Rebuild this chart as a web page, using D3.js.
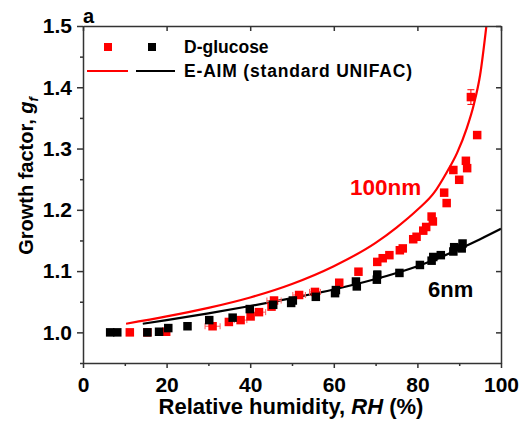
<!DOCTYPE html>
<html>
<head>
<meta charset="utf-8">
<script src="https://cdn.jsdelivr.net/npm/d3@7"></script>
<style>
  html, body { margin: 0; padding: 0; background: #fff; }
  svg { display: block; font-family: "Liberation Sans", Arial, sans-serif; }
</style>
</head>
<body>
<svg id="chart" width="526" height="425"></svg>
<script>
// Measured growth factors of D-glucose particles (100 nm dry, red)
const rh100 = [11.2, 15.4, 19.9, 31.0, 34.9, 37.7, 40.1, 42.1, 45.1, 45.7, 51.7, 55.5,
               61.3, 65.9, 70.4, 71.7, 73.3, 75.8, 76.5, 79.0, 79.8, 81.4, 82.1, 83.4,
               83.7, 86.4, 87.0, 88.6, 90.0, 91.6, 91.9, 92.8, 94.3];
const gf100 = [1.000, 1.000, 1.001, 1.010, 1.017, 1.020, 1.026, 1.033, 1.042, 1.052, 1.061, 1.066,
               1.081, 1.099, 1.115, 1.121, 1.126, 1.134, 1.137, 1.152, 1.156, 1.166, 1.172, 1.189,
               1.181, 1.228, 1.211, 1.265, 1.249, 1.280, 1.268, 1.384, 1.322];
// Horizontal (RH) and vertical (gf) uncertainties for the 100 nm points
const rhErr100 = [0, 0, 0, 1.8, 0, 1.5, 0, 1.6, 0, 1.7, 1.5, 1.3,
                  0, 0, 0, 0, 0, 0, 0, 0, 0, 0, 0, 0,
                  0, 0, 0, 0, 0, 0, 0, 0, 0];
const gfErr100 = [0, 0, 0, 0, 0, 0, 0, 0, 0, 0, 0, 0,
                  0, 0, 0, 0, 0, 0, 0, 0, 0, 0, 0, 0,
                  0, 0, 0, 0, 0, 0, 0, 0.012, 0];

// Measured growth factors of D-glucose particles (6 nm dry, black)
const rh6 = [6.5, 8.2, 15.4, 18.2, 20.4, 25.0, 30.2, 35.8, 39.9, 45.5, 49.8, 50.2,
             55.7, 60.3, 60.5, 65.5, 65.3, 70.3, 70.4, 75.7, 80.6, 83.4, 83.8, 85.6,
             88.6, 88.8, 90.6, 90.8];
const gf6 = [1.000, 1.000, 1.000, 1.001, 1.007, 1.010, 1.020, 1.024, 1.038, 1.045, 1.048, 1.052,
             1.058, 1.064, 1.069, 1.075, 1.083, 1.086, 1.094, 1.097, 1.110, 1.117, 1.123, 1.126,
             1.132, 1.139, 1.137, 1.145];
const gfErr6 = [0, 0, 0, 0, 0, 0, 0, 0, 0, 0, 0, 0,
                0.004, 0, 0, 0, 0, 0, 0.006, 0, 0, 0, 0, 0,
                0, 0, 0, 0];

// E-AIM (standard UNIFAC) model curves
const modelRh100 = [10.3, 20, 30, 40, 50, 60, 70, 75, 80, 84, 87, 89.5, 91.8, 93.5, 95, 96.5];
const modelGf100 = [1.014, 1.026, 1.040, 1.057, 1.079, 1.108, 1.146, 1.171, 1.200, 1.228, 1.261, 1.293, 1.333, 1.372, 1.420, 1.500];
const modelRh6 = [14.3, 20, 30, 40, 50, 60, 70, 80, 85, 90, 95, 100];
const modelGf6 = [1.014, 1.020, 1.031, 1.043, 1.056, 1.070, 1.087, 1.108, 1.121, 1.136, 1.152, 1.169];

// Axis ticks
const xTicks = [0, 20, 40, 60, 80, 100];
const xMinor = [10, 30, 50, 70, 90];
const yTicks = [1.0, 1.1, 1.2, 1.3, 1.4, 1.5];
const yMinor = [0.95, 1.05, 1.15, 1.25, 1.35, 1.45];

const RED = "#ff0000";
const BLACK = "#000000";
const AXIS = "#333333";

const svg = d3.select("#chart");
const L = 83, R = 501, T = 26, B = 363;

const x = d3.scaleLinear().domain([0, 100]).range([L, R]);
const y = d3.scaleLinear().domain([0.95, 1.5]).range([B, T]);

const defs = svg.append("defs");
defs.append("clipPath").attr("id", "plotClip")
  .append("rect").attr("x", L).attr("y", T).attr("width", R - L).attr("height", B - T);

const plot = svg.append("g").attr("clip-path", "url(#plotClip)");

// Model lines
const line = d3.line().x(d => x(d[0])).y(d => y(d[1])).curve(d3.curveMonotoneX);
plot.append("path")
  .datum(d3.zip(modelRh100, modelGf100))
  .attr("d", line).attr("fill", "none").attr("stroke", RED).attr("stroke-width", 2.2);
plot.append("path")
  .datum(d3.zip(modelRh6, modelGf6))
  .attr("d", line).attr("fill", "none").attr("stroke", BLACK).attr("stroke-width", 2.2);

const S = 8.5; // marker side

function drawSeries(rh, gf, rhErr, gfErr, color, errColor) {
  const data = rh.map((r, i) => ({ r, g: gf[i], er: rhErr ? rhErr[i] : 0, eg: gfErr ? gfErr[i] : 0 }));
  const g = plot.append("g");
  // horizontal error bars
  data.filter(d => d.er > 0).forEach(d => {
    g.append("line").attr("x1", x(d.r - d.er)).attr("x2", x(d.r + d.er))
      .attr("y1", y(d.g)).attr("y2", y(d.g)).attr("stroke", errColor).attr("stroke-width", 1);
    [d.r - d.er, d.r + d.er].forEach(v => g.append("line")
      .attr("x1", x(v)).attr("x2", x(v)).attr("y1", y(d.g) - 3).attr("y2", y(d.g) + 3)
      .attr("stroke", errColor).attr("stroke-width", 1));
  });
  // vertical error bars
  data.filter(d => d.eg > 0).forEach(d => {
    g.append("line").attr("x1", x(d.r)).attr("x2", x(d.r))
      .attr("y1", y(d.g - d.eg)).attr("y2", y(d.g + d.eg)).attr("stroke", color).attr("stroke-width", 1);
    [d.g - d.eg, d.g + d.eg].forEach(v => g.append("line")
      .attr("x1", x(d.r) - 3.5).attr("x2", x(d.r) + 3.5).attr("y1", y(v)).attr("y2", y(v))
      .attr("stroke", color).attr("stroke-width", 1));
  });
  g.selectAll("rect.pt").data(data).enter().append("rect")
    .attr("class", "pt")
    .attr("x", d => x(d.r) - S / 2).attr("y", d => y(d.g) - S / 2)
    .attr("width", S).attr("height", S).attr("fill", color);
}

drawSeries(rh100, gf100, rhErr100, gfErr100, RED, "#ff5a5a");
drawSeries(rh6, gf6, null, gfErr6, BLACK, BLACK);

// Axes
const fontSize = 21;
const axisG = svg.append("g");

axisG.append("g").attr("transform", `translate(0,${B})`)
  .call(d3.axisBottom(x).tickValues(xTicks).tickSizeInner(5).tickSizeOuter(0).tickPadding(9).tickFormat(d3.format("d")));
axisG.append("g").attr("transform", `translate(0,${B})`)
  .call(d3.axisBottom(x).tickValues(xMinor).tickSizeInner(3).tickSizeOuter(0).tickFormat(""))
  .select(".domain").remove();

axisG.append("g").attr("transform", `translate(${L},0)`)
  .call(d3.axisLeft(y).tickValues(yTicks).tickSizeInner(6).tickSizeOuter(0).tickPadding(5).tickFormat(d3.format(".1f")));
axisG.append("g").attr("transform", `translate(${L},0)`)
  .call(d3.axisLeft(y).tickValues(yMinor).tickSizeInner(3).tickSizeOuter(0).tickFormat(""))
  .select(".domain").remove();

axisG.append("g").attr("transform", `translate(0,${T})`)
  .call(d3.axisTop(x).tickValues(xTicks).tickSizeInner(-5).tickSizeOuter(0).tickFormat(""));
axisG.append("g").attr("transform", `translate(${R},0)`)
  .call(d3.axisRight(y).tickValues(yTicks).tickSizeInner(-5).tickSizeOuter(0).tickFormat(""));

axisG.selectAll(".domain").attr("stroke", AXIS).attr("stroke-width", 1.5);
axisG.selectAll(".tick line").attr("stroke", AXIS).attr("stroke-width", 1.5);
axisG.selectAll(".tick text")
  .attr("fill", "#000").style("font-family", "'Liberation Sans', Arial, sans-serif")
  .style("font-size", fontSize + "px").style("font-weight", "bold");

// Axis titles
const xt = svg.append("text").attr("x", 291).attr("y", 414).attr("text-anchor", "middle")
  .style("font-size", "22px").style("font-weight", "bold");
xt.append("tspan").text("Relative humidity, ");
xt.append("tspan").style("font-style", "italic").text("RH");
xt.append("tspan").text(" (%)");

const yt = svg.append("text").attr("transform", "translate(33,176) rotate(-90)")
  .attr("text-anchor", "middle").style("font-size", "20px").style("font-weight", "bold");
yt.append("tspan").text("Growth factor, ");
yt.append("tspan").style("font-style", "italic").text("g");
yt.append("tspan").style("font-style", "italic").style("font-size", "13px").attr("dy", 5).text("f");

// Panel letter
svg.append("text").attr("x", 83).attr("y", 23).style("font-size", "20px").style("font-weight", "bold").text("a");

// Legend
const leg = svg.append("g");
leg.append("rect").attr("x", 108 - 4).attr("y", 47 - 4).attr("width", 8).attr("height", 8).attr("fill", RED);
leg.append("rect").attr("x", 152 - 4).attr("y", 47 - 4).attr("width", 8).attr("height", 8).attr("fill", BLACK);
leg.append("text").attr("x", 184).attr("y", 53).style("font-size", "17.5px").style("font-weight", "bold").text("D-glucose");
leg.append("line").attr("x1", 87).attr("x2", 128).attr("y1", 71).attr("y2", 71).attr("stroke", RED).attr("stroke-width", 2.2);
leg.append("line").attr("x1", 136).attr("x2", 175).attr("y1", 71).attr("y2", 71).attr("stroke", BLACK).attr("stroke-width", 2.2);
leg.append("text").attr("x", 184).attr("y", 77).attr("textLength", 228).attr("lengthAdjust", "spacing")
  .style("font-size", "17.5px").style("font-weight", "bold").text("E-AIM (standard UNIFAC)");

// Size annotations
svg.append("text").attr("x", 350).attr("y", 195).attr("fill", RED)
  .style("font-size", "22.5px").style("font-weight", "bold").text("100nm");
svg.append("text").attr("x", 428).attr("y", 297).attr("fill", BLACK)
  .style("font-size", "22px").style("font-weight", "bold").text("6nm");
</script>
</body>
</html>
